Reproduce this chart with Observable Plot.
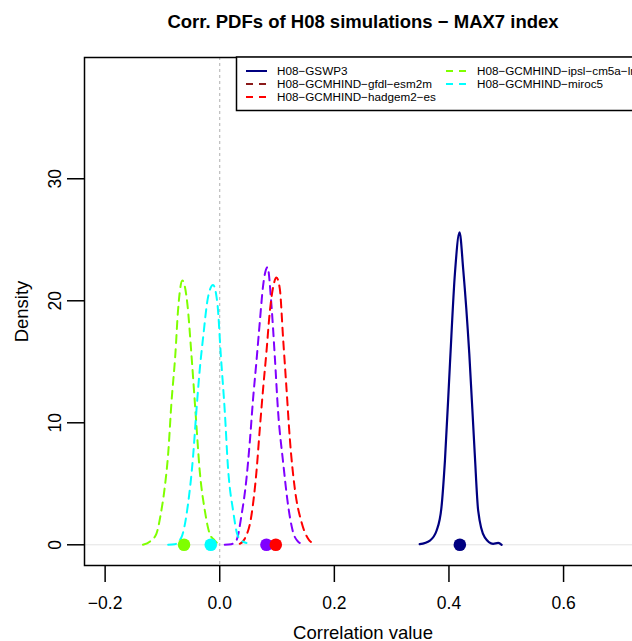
<!DOCTYPE html>
<html><head><meta charset="utf-8">
<script src="https://cdn.jsdelivr.net/npm/d3@7"></script>
<script src="https://cdn.jsdelivr.net/npm/@observablehq/plot@0.6"></script>
<style>
html,body{margin:0;padding:0;overflow:hidden;background:#fff;width:632px;height:641px}
#chart{position:relative;width:632px;height:641px;overflow:hidden}
#chart svg{max-width:none !important;width:660px !important;height:641px !important;display:block}
</style></head><body><div id="chart"></div>
<script>
// ---- data ----
const titleText = "Corr. PDFs of H08 simulations \u2212 MAX7 index";
const xLabel = "Correlation value";
const yLabel = "Density";
const xTicks = [-0.2, 0.0, 0.2, 0.4, 0.6];
const yTicks = [0, 10, 20, 30];

const seriesNames = ["H08-GSWP3", "H08-GCMHIND-gfdl-esm2m", "H08-GCMHIND-hadgem2-es", "H08-GCMHIND-ipsl-cm5a-lr", "H08-GCMHIND-miroc5"];
const curveColors = ["#000080", "#8000ff", "#ff0000", "#7fff00", "#00ffff"];
const legendColors = ["#000080", "#8b1a1a", "#ff0000", "#7fff00", "#00ffff"];

const gswp3X = [0.349, 0.3668, 0.3785, 0.387, 0.393, 0.4017, 0.4105, 0.4185, 0.425, 0.4355, 0.445, 0.451, 0.4625, 0.477, 0.486, 0.492];
const gswp3Y = [0.05, 0.35, 1.17, 3.1, 6.9, 14.8, 22.3, 25.6, 22.5, 15.65, 7.46, 2.8, 0.6, 0.08, 0.15, 0.0];

const gfdlX = [0.0087, 0.020, 0.029, 0.0379, 0.0466, 0.0524, 0.0582, 0.064, 0.0699, 0.0757, 0.0833, 0.0903, 0.096, 0.1019, 0.1106, 0.1194, 0.128, 0.136, 0.1427];
const gfdlY = [0.0, 0.05, 0.35, 2.4, 5.4, 8.4, 11.97, 15.0, 18.25, 21.25, 22.75, 19.6, 15.5, 10.87, 6.77, 3.2, 1.03, 0.3, 0.08];

const hadgemX = [0.035, 0.0437, 0.0553, 0.064, 0.0699, 0.0757, 0.0815, 0.0873, 0.0931, 0.099, 0.1048, 0.1106, 0.1165, 0.1223, 0.131, 0.1427, 0.1543, 0.1648];
const hadgemY = [0.08, 0.5, 2.4, 5.95, 9.5, 12.8, 15.8, 19.07, 21.1, 21.9, 21.0, 16.9, 12.8, 8.7, 4.6, 1.85, 0.5, 0.08];

const ipslX = [-0.134, -0.121, -0.1106, -0.103, -0.096, -0.090, -0.0844, -0.0774, -0.0728, -0.0652, -0.0565, -0.0495, -0.042, -0.035, -0.026, -0.0175, -0.0087, -0.003];
const ipslY = [0.0, 0.3, 0.9, 2.5, 4.7, 7.46, 11.56, 15.66, 19.2, 21.66, 19.75, 15.66, 10.7, 6.1, 2.8, 0.9, 0.35, 0.05];

const miroc5X = [-0.090, -0.0786, -0.067, -0.0553, -0.0466, -0.0407, -0.035, -0.029, -0.0204, -0.0117, -0.004, 0.0017, 0.0087, 0.0146, 0.0233, 0.031, 0.037, 0.0466];
const miroc5Y = [0.0, 0.05, 0.6, 3.36, 7.2, 11.0, 14.3, 17.0, 20.3, 21.3, 19.75, 15.66, 11.0, 6.2, 2.8, 0.8, 0.4, 0.15];

const meanValues = [0.419, 0.0815, 0.0978, -0.0623, -0.0157];

// ---- build tables ----
const curveX = [gswp3X, gfdlX, hadgemX, ipslX, miroc5X];
const curveY = [gswp3Y, gfdlY, hadgemY, ipslY, miroc5Y];
const curves = [];
seriesNames.forEach((name, i) => {
  curveX[i].forEach((x, j) => curves.push({series: name, x, y: curveY[i][j], color: curveColors[i]}));
});
const solid = curves.filter(d => d.series === seriesNames[0]);
const dashed = curves.filter(d => d.series !== seriesNames[0]);
const means = seriesNames.map((name, i) => ({series: name, x: meanValues[i], y: 0, color: curveColors[i]}));
const dotOrder = [0, 3, 4, 1, 2].map(i => means[i]);

const font = "'Liberation Sans', Arial, Helvetica, sans-serif";
const minusFmt = d => d.toFixed(1).replace("-", "\u2212");

const plot = Plot.plot({
  width: 660, height: 641,
  marginLeft: 84, marginRight: 19, marginTop: 57, marginBottom: 76,
  x: {domain: [-0.236, 0.736]},
  y: {domain: [-1.697, 39.94]},
  color: {type: "identity"},
  style: {fontFamily: font, background: "white", overflow: "visible"},
  marks: [
    Plot.ruleY([0], {stroke: "#e3e3e3", strokeWidth: 1}),
    Plot.ruleX([0], {stroke: "#b0b0b0", strokeWidth: 1, strokeDasharray: "3,3"}),
    Plot.line(solid, {x: "x", y: "y", z: "series", stroke: "color", strokeWidth: 2.2, curve: "monotone-x"}),
    Plot.line(dashed, {x: "x", y: "y", z: "series", stroke: "color", strokeWidth: 2, strokeDasharray: "8,6", curve: "monotone-x"}),
    Plot.dot(dotOrder, {x: "x", y: "y", r: 6.3, fill: "color", stroke: null}),
    Plot.frame({stroke: "black", strokeWidth: 1.5}),
    Plot.axisX({ticks: xTicks, tickSize: 17, tickPadding: 14, tickFormat: minusFmt, fontSize: 17.5, label: null, strokeWidth: 1.5, fill: "black", color: "black"}),
    Plot.axisY({ticks: yTicks, tickSize: 17, tickFormat: () => "", label: null, strokeWidth: 1.5, color: "black"}),
    Plot.text(yTicks, {y: d => d, text: d => String(d), frameAnchor: "left", dx: -29.5, rotate: -90, fontSize: 17.5, lineAnchor: "middle", textAnchor: "middle", fill: "black"}),
    Plot.text([yLabel], {frameAnchor: "left", dx: -62, rotate: -90, fontSize: 18.5, lineAnchor: "middle", textAnchor: "middle", fill: "black"}),
    Plot.text([xLabel], {frameAnchor: "bottom", dy: 68, fontSize: 18.5, lineAnchor: "middle", textAnchor: "middle", fill: "black"}),
    Plot.text([titleText], {frameAnchor: "top", dy: -35, fontSize: 18.5, fontWeight: "bold", lineAnchor: "middle", textAnchor: "middle", fill: "black"})
  ]
});

// ---- legend (top-right inset, as in the R plot) ----
const svg = d3.select(plot);
const lg = svg.append("g").attr("font-family", font).attr("font-size", 11.7).attr("text-anchor", "start");
lg.append("rect").attr("x", 236.5).attr("y", 57).attr("width", 404.5).attr("height", 53.5)
  .attr("fill", "white").attr("stroke", "black").attr("stroke-width", 1.5);
const legendLayout = [[246, 71], [246, 84], [246, 97], [446, 71], [446, 84]];
seriesNames.forEach((name, i) => {
  const [lx, ly] = legendLayout[i];
  lg.append("line").attr("x1", lx).attr("x2", lx + 21).attr("y1", ly).attr("y2", ly)
    .attr("stroke", legendColors[i]).attr("stroke-width", 2)
    .attr("stroke-dasharray", i === 0 ? null : "7,6");
  lg.append("text").attr("x", lx + 31).attr("y", ly).attr("dy", "0.35em").attr("fill", "black")
    .attr("text-anchor", "start")
    .text(name.replace(/-/g, "\u2212"));
});

plot.style.maxWidth = "none";
document.getElementById("chart").appendChild(plot);
</script></body></html>
